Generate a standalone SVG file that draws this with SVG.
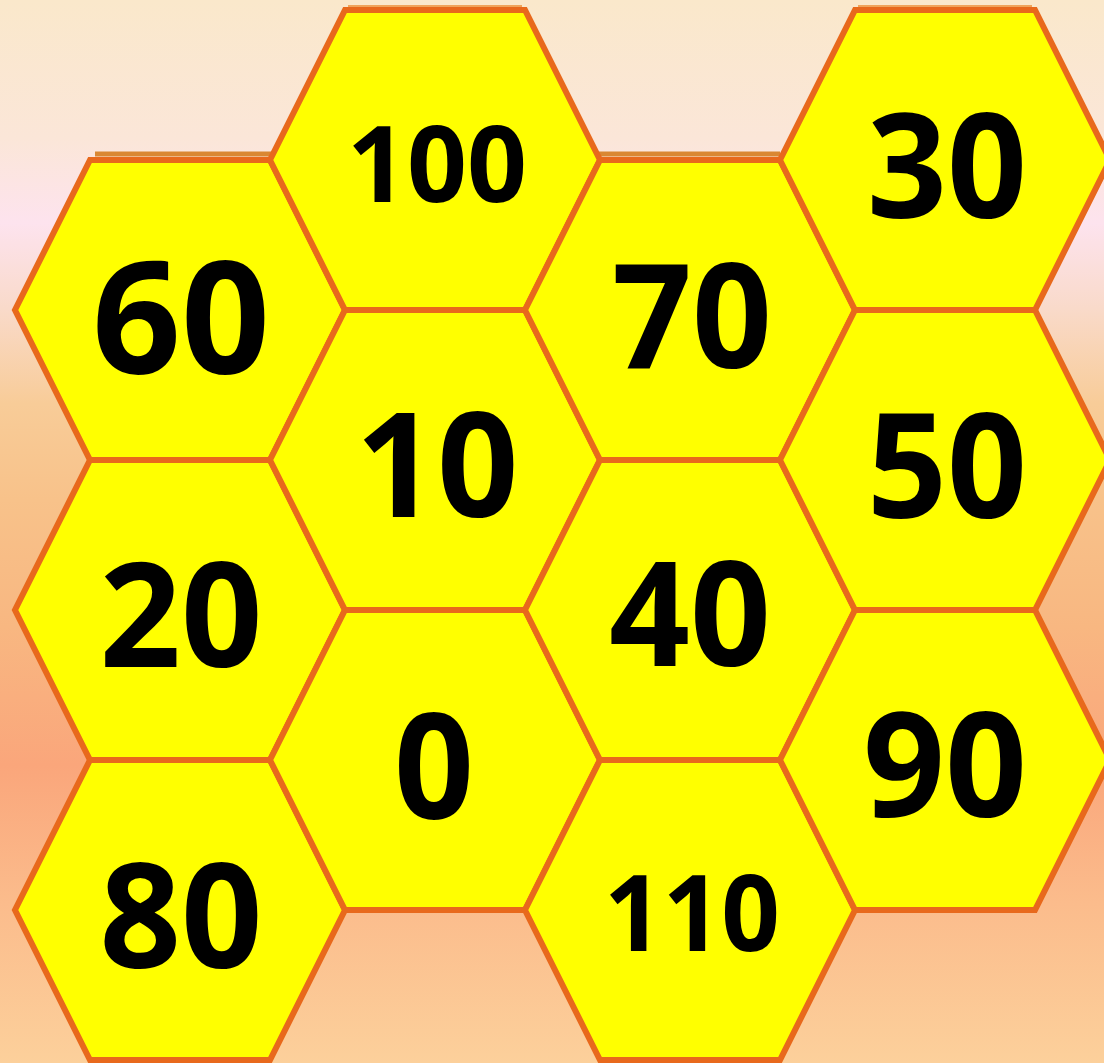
<svg xmlns="http://www.w3.org/2000/svg" xmlns:xlink="http://www.w3.org/1999/xlink" width="1104" height="1063" viewBox="0 0 1104 1063">
  <defs>
    <linearGradient id="bg" x1="0" y1="0" x2="0" y2="1">
      <stop offset="0" stop-color="#FAE8CB"/>
      <stop offset="0.13" stop-color="#FBE6D8"/>
      <stop offset="0.21" stop-color="#FDE3EE"/>
      <stop offset="0.29" stop-color="#F9DACA"/>
      <stop offset="0.38" stop-color="#F8CC98"/>
      <stop offset="0.47" stop-color="#F8C28A"/>
      <stop offset="0.59" stop-color="#F8B781"/>
      <stop offset="0.72" stop-color="#FAA67B"/>
      <stop offset="0.85" stop-color="#FBBC8C"/>
      <stop offset="1" stop-color="#FCD09B"/>
    </linearGradient>
    <polygon id="hex" points="-90,-150 90,-150 165,0 90,150 -90,150 -165,0"/>
  </defs>
  <style>
    .cell { fill: #FFFF00; stroke: #E8691C; stroke-width: 6; stroke-linejoin: miter; }
    .shadow { stroke: #DA8732; stroke-width: 5; fill: none; }
    .faint { stroke: #F0A45A; stroke-width: 2; fill: none; }
    .num { font-family: "Open Sans", "Noto Sans", "Liberation Sans", sans-serif; font-weight: 700; fill: #000000; text-anchor: middle; }
  </style>

  <rect x="0" y="0" width="1104" height="1063" fill="url(#bg)"/>

  <g id="shadows">
    <line class="shadow" x1="95" y1="154" x2="272" y2="154"/>
    <line class="shadow" x1="599" y1="154" x2="780" y2="154"/>
    <line class="faint" x1="348" y1="6" x2="522" y2="6"/>
    <line class="faint" x1="858" y1="6" x2="1032" y2="6"/>
  </g>

  <g id="node-60"><use xlink:href="#hex" class="cell" transform="translate(180,310)"/><text class="num" x="181" y="373" font-size="156" textLength="178" lengthAdjust="spacingAndGlyphs">60</text></g>
  <g id="node-20"><use xlink:href="#hex" class="cell" transform="translate(180,610)"/><text class="num" x="181" y="667" font-size="145" textLength="163" lengthAdjust="spacingAndGlyphs">20</text></g>
  <g id="node-80"><use xlink:href="#hex" class="cell" transform="translate(180,910)"/><text class="num" x="181" y="968" font-size="145" textLength="163" lengthAdjust="spacingAndGlyphs">80</text></g>

  <g id="node-100"><use xlink:href="#hex" class="cell" transform="translate(435,160)"/><text class="num" x="437" y="202" font-size="105" textLength="180" lengthAdjust="spacingAndGlyphs">100</text></g>
  <g id="node-10"><use xlink:href="#hex" class="cell" transform="translate(435,460)"/><text class="num" x="437" y="517" font-size="145" textLength="163" lengthAdjust="spacingAndGlyphs">10</text></g>
  <g id="node-0"><use xlink:href="#hex" class="cell" transform="translate(435,760)"/><text class="num" x="434" y="819" font-size="148" textLength="80" lengthAdjust="spacingAndGlyphs">0</text></g>

  <g id="node-70"><use xlink:href="#hex" class="cell" transform="translate(690,310)"/><text class="num" x="692" y="368" font-size="145" textLength="160" lengthAdjust="spacingAndGlyphs">70</text></g>
  <g id="node-40"><use xlink:href="#hex" class="cell" transform="translate(690,610)"/><text class="num" x="690" y="666" font-size="145" textLength="162" lengthAdjust="spacingAndGlyphs">40</text></g>
  <g id="node-110"><use xlink:href="#hex" class="cell" transform="translate(690,910)"/><text class="num" x="692" y="951" font-size="105" textLength="176" lengthAdjust="spacingAndGlyphs">110</text></g>

  <g id="node-30"><use xlink:href="#hex" class="cell" transform="translate(945,160)"/><text class="num" x="947" y="218" font-size="146" textLength="160" lengthAdjust="spacingAndGlyphs">30</text></g>
  <g id="node-50"><use xlink:href="#hex" class="cell" transform="translate(945,460)"/><text class="num" x="947" y="518" font-size="145" textLength="160" lengthAdjust="spacingAndGlyphs">50</text></g>
  <g id="node-90"><use xlink:href="#hex" class="cell" transform="translate(945,760)"/><text class="num" x="945" y="817" font-size="145" textLength="164" lengthAdjust="spacingAndGlyphs">90</text></g>

  <g id="connectors"/>
</svg>
